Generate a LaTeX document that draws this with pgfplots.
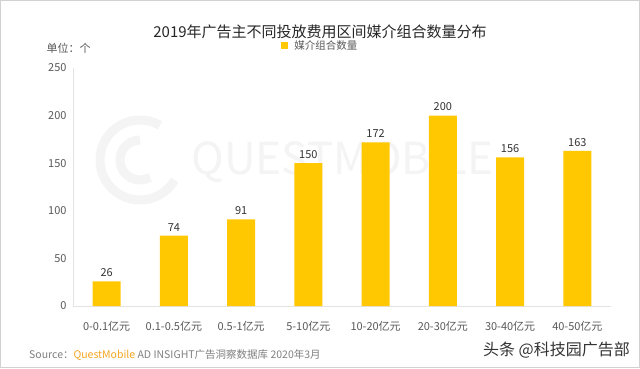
\documentclass[border=0pt]{standalone}
\usepackage{fontspec}
\setmainfont{Noto Sans CJK SC}
\usepackage{pgfplots}
\pgfplotsset{compat=1.18}
\definecolor{baryellow}{HTML}{FFC800}
\definecolor{txtgray}{HTML}{595959}
\definecolor{srcgray}{HTML}{808080}
\definecolor{qmorange}{HTML}{F5A623}
\definecolor{wmgray}{HTML}{F4F4F4}
\begin{document}
\begin{tikzpicture}[x=1pt,y=1pt]
\useasboundingbox (0,0) rectangle (640,368);
\fill[white] (0,0) rectangle (640,368);
\draw[draw=gray!35, line width=1.2pt] (0.6,0.6) rectangle (639.4,367.4);
% watermark
\draw[wmgray, line width=9pt] (140,208) ++(60:40) arc (60:330:40);
\draw[wmgray, line width=9pt] (140,208) ++(90:20) arc (90:300:20);
\node[wmgray, font=\fontsize{44}{44}\selectfont, anchor=west] at (188,206) {QUESTMOBILE};
% title
\node[font=\fontsize{15}{18}\selectfont, text=black!85] at (320,336) {2019年广告主不同投放费用区间媒介组合数量分布};
\node[font=\fontsize{11}{13}\selectfont, text=txtgray, anchor=west] at (43,320) {单位：个};
\begin{axis}[
  at={(73pt,62pt)}, anchor=south west,
  scale only axis, width=538pt, height=238pt,
  xmin=-0.5, xmax=7.5, ymin=0, ymax=250,
  ytick={0,50,...,250},
  xtick={0,...,7},
  xticklabels={0-0.1亿元,0.1-0.5亿元,0.5-1亿元,5-10亿元,10-20亿元,20-30亿元,30-40亿元,40-50亿元},
  axis x line*=bottom, axis y line*=left,
  axis line style={draw=gray!22, -},
  tick style={draw=none},
  /pgf/number format/assume math mode=true,
  yticklabel style={font=\fontsize{11}{13}\selectfont, text=txtgray, xshift=-3pt},
  xticklabel style={font=\fontsize{11}{13}\selectfont, text=txtgray, yshift=-7pt},
  ybar, bar width=28pt,
  nodes near coords,
  every node near coord/.append style={font=\fontsize{11}{13}\selectfont, text=black!80, yshift=1pt},
  legend style={at={(0.46,1)}, anchor=south, yshift=13pt, draw=none, fill=none,
    font=\fontsize{10.5}{12}\selectfont, text=txtgray,
    /tikz/every odd column/.append style={column sep=4pt}},
  legend image code/.code={\fill[baryellow] (0pt,-3.5pt) rectangle (7pt,3.5pt);},
]
\addplot[fill=baryellow, draw=none] coordinates {(0,26) (1,74) (2,91) (3,150) (4,172) (5,200) (6,156) (7,163)};
\addlegendentry{媒介组合数量}
\end{axis}
\node[font=\fontsize{10.5}{12}\selectfont, anchor=west, inner sep=0pt] at (29,13) {\textcolor{srcgray}{Source：}\textcolor{qmorange}{QuestMobile} \textcolor{srcgray}{AD INSIGHT广告洞察数据库 2020年3月}};
\node[font=\fontsize{16}{18}\selectfont, anchor=east, text=black!80, inner sep=0pt] at (630,18) {头条 @科技园广告部};
\end{tikzpicture}
\end{document}
